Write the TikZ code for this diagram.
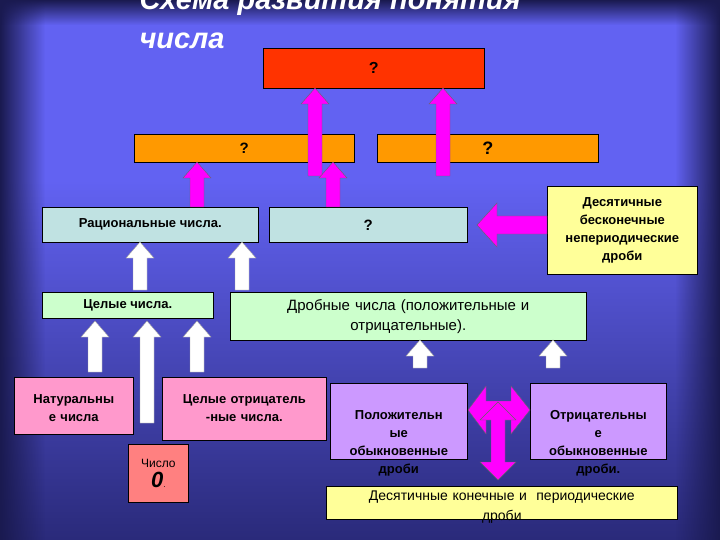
\documentclass[tikz,border=0pt]{standalone}
\usepackage{fontspec}
\setmainfont{Liberation Sans}
\usetikzlibrary{fadings}
\definecolor{bgmid}{HTML}{6262F2}
\definecolor{bgbot}{HTML}{2A2A7A}
\definecolor{bgdark}{HTML}{1A1A50}
\definecolor{cred}{HTML}{FF3300}
\definecolor{corange}{HTML}{FF9900}
\definecolor{cblue}{HTML}{C0E2E2}
\definecolor{cyel}{HTML}{FFFF99}
\definecolor{cgreen}{HTML}{CCFFCC}
\definecolor{cpink}{HTML}{FF99CC}
\definecolor{csalmon}{HTML}{FF8080}
\definecolor{cpurp}{HTML}{CC99FF}
\definecolor{cmag}{HTML}{FF00FF}
\tikzset{
  box/.style={draw=black, line width=0.6pt, align=center, inner sep=2pt, font=\fontsize{13}{18}\selectfont\bfseries},
  magarr/.style={fill=cmag, draw=black!60, line width=0.4pt},
  whitearr/.style={fill=white, draw=black!40, line width=0.4pt},
}
\newcommand\blkup[4]{\path[#4] (#1-7,#2) -- (#1-7,#3+16) -- (#1-14,#3+16) -- (#1,#3) -- (#1+14,#3+16) -- (#1+7,#3+16) -- (#1+7,#2) -- cycle;}
\newcommand\boxat[5]{\node[box, fill=#5, minimum width=#3-#1, minimum height=#4-#2, anchor=north west] at (#1,#2)}
\begin{document}
\begin{tikzpicture}[x=1pt,y=-1pt]
\useasboundingbox (0,0) rectangle (720,540);
\shade[top color=bgmid, bottom color=bgbot] (0,0) rectangle (720,540);
\fill[bgmid] (0,0) rectangle (720,180);
\shade[top color=bgmid, bottom color=bgbot] (0,180) rectangle (720,540);
\fill[bgdark, path fading=east] (0,0) rectangle (45,540);
\fill[bgdark, path fading=west] (675,0) rectangle (720,540);
\fill[bgdark, path fading=south] (0,0) rectangle (720,25);
% title
\node[anchor=west, text=white, font=\fontsize{29}{30}\selectfont\bfseries\itshape] (t1) at (136,2) {Схема развития понятия};
\node[anchor=west, text=white, font=\fontsize{29}{30}\selectfont\bfseries\itshape] (t2) at (136,41) {числа};
% boxes
\boxat{263}{48}{484}{88}{cred} (top) {\fontsize{16}{16}\selectfont ?};
\boxat{134}{134}{354}{162}{corange} (o1) {\fontsize{15}{15}\selectfont ?};
\boxat{377}{134}{598}{162}{corange} (o2) {\fontsize{18}{18}\selectfont ?};
\boxat{42}{207}{258}{242}{cblue} (rat) {Рациональные числа.};
\boxat{269}{207}{467}{242}{cblue} (q) {\fontsize{15}{15}\selectfont ?};
\node[box, fill=cyel, minimum width=150, minimum height=88, text width=144, anchor=north west] (dec) at (547,186) {Десятичные\\бесконечные\\непериодические\\дроби};
\boxat{42}{292}{213}{318}{cgreen} (int) {Целые числа.};
\node[box, fill=cgreen, font=\fontsize{15}{20}\mdseries\selectfont, minimum width=356, minimum height=48, text width=340, anchor=north west] (fr) at (230,292) {Дробные числа (положительные и\\отрицательные).};
\node[box, fill=cpink, minimum width=119, minimum height=57, text width=112, anchor=north west, text depth=14pt] (nat) at (14,377) {Натуральны\\е числа};
\node[box, fill=cpink, minimum width=164, minimum height=63, text width=160, anchor=north west, text depth=20pt] (neg) at (162,377) {Целые отрицатель\\-ные числа.};
\node[box, fill=csalmon, font=\fontsize{12}{20}\mdseries\selectfont, minimum width=60, minimum height=58, text width=56, anchor=north west] (zero) at (128,444) {Число\\{\fontsize{22}{22}\selectfont\bfseries\itshape 0}{\fontsize{8}{8}\selectfont .}};
\node[box, fill=cpurp, minimum width=137, minimum height=76, text width=130, anchor=north west, text depth=12pt] (pos) at (330,383) {Положительн\\ые\\обыкновенные\\дроби};
\node[box, fill=cpurp, minimum width=136, minimum height=76, text width=130, anchor=north west, text depth=12pt] (negf) at (530,383) {Отрицательны\\е\\обыкновенные\\дроби.};
\node[box, fill=cyel, font=\fontsize{14}{20}\mdseries\selectfont, minimum width=351, minimum height=33, text width=340, anchor=north west, text depth=14pt] (fin) at (326,486) {Десятичные конечные и~~периодические\\дроби};
% magenta arrows
\blkup{315}{176}{88}{magarr}
\blkup{443}{176}{88}{magarr}
\blkup{197}{207}{162}{magarr}
\blkup{333}{207}{162}{magarr}
\path[magarr] (547,216) -- (497,216) -- (497,203) -- (477,225) -- (497,247) -- (497,234) -- (547,234) -- cycle;
% white arrows
\blkup{140}{290}{242}{whitearr}
\blkup{242}{290}{242}{whitearr}
\blkup{95}{372}{321}{whitearr}
\blkup{147}{423}{321}{whitearr}
\blkup{197}{372}{321}{whitearr}
\blkup{420}{368}{340}{whitearr}
\blkup{553}{368}{340}{whitearr}
% double arrows
\path[magarr] (468,410) -- (486,386) -- (486,401) -- (511,401) -- (511,386) -- (530,410) -- (511,434) -- (511,419) -- (486,419) -- (486,434) -- cycle;
\path[magarr] (491,435) -- (491,420) -- (480,420) -- (498,402) -- (516,420) -- (505,420) -- (505,462) -- (516,462) -- (498,480) -- (480,462) -- (491,462) -- cycle;
\end{tikzpicture}
\end{document}
